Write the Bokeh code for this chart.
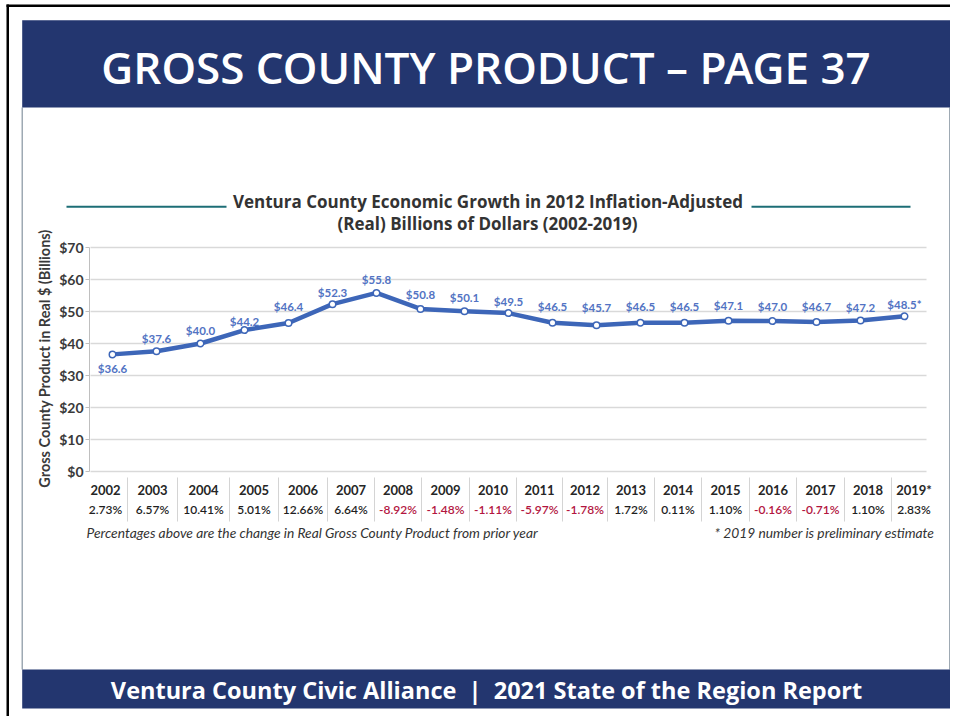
import math
from bokeh.plotting import figure
from bokeh.models import (ColumnDataSource, Label, LabelSet, BoxAnnotation, Range1d)
from bokeh.core.properties import value
from bokeh.embed import file_html
from bokeh.resources import INLINE

# ---------------- data ----------------
point_years = [2001, 2002, 2003, 2004, 2005, 2006, 2007, 2008, 2009, 2010,
               2011, 2012, 2013, 2014, 2015, 2016, 2017, 2018, 2019]
gcp_billions = [36.6, 37.6, 40.0, 44.2, 46.4, 52.3, 55.8, 50.8, 50.1, 49.5,
                46.5, 45.7, 46.5, 46.5, 47.1, 47.0, 46.7, 47.2, 48.5]
value_labels = ["$36.6", "$37.6", "$40.0", "$44.2", "$46.4", "$52.3", "$55.8",
                "$50.8", "$50.1", "$49.5", "$46.5", "$45.7", "$46.5", "$46.5",
                "$47.1", "$47.0", "$46.7", "$47.2", "$48.5*"]
table_years = ["2002", "2003", "2004", "2005", "2006", "2007", "2008", "2009",
               "2010", "2011", "2012", "2013", "2014", "2015", "2016", "2017",
               "2018", "2019*"]
pct_change = [2.73, 6.57, 10.41, 5.01, 12.66, 6.64, -8.92, -1.48, -1.11, -5.97,
              -1.78, 1.72, 0.11, 1.10, -0.16, -0.71, 1.10, 2.83]
y_ticks = [0, 10, 20, 30, 40, 50, 60, 70]

# ---------------- layout (screen pixels of the page) ----------------
W, H = 950, 716
OX, OY = 1, 1                                # where the canvas lands on the page
FL, FR, FT, FB = 90, 927, 248, 472          # chart area
X_FIRST_PX, X_STEP_PX = 113, 44.0            # first point position, spacing
Y_MAX = 70
label_dy = [14, -13, -13, -9, -17, -12, -13, -14, -14, -12,
            -16, -18, -16, -16, -15, -15, -16, -13, -12]
table_edges = [84, 128, 178, 230, 279, 328, 375, 422, 470, 517, 563, 608,
               655, 702, 750, 797, 845, 892, 937]


def X(sx):
    return point_years[0] + (sx - X_FIRST_PX) / X_STEP_PX


def Y(sy):
    return (FB - sy) * Y_MAX / (FB - FT)


NAVY = "#23366f"
BLUE = "#3d66b8"
LABEL_BLUE = "#5273c3"
RED = "#b3163f"
DARK = "#333333"
AXIS_GRAY = "#bfbfbf"

p = figure(width=W, height=H, output_backend="svg", toolbar_location=None,
           x_range=Range1d(X(OX), X(OX + W)), y_range=Range1d(Y(OY + H), Y(OY)),
           x_axis_location=None, y_axis_location=None,
           min_border=0, min_border_left=0, min_border_right=0,
           min_border_top=0, min_border_bottom=0)
p.title.visible = False
p.outline_line_color = None
p.background_fill_color = "white"
p.border_fill_color = "white"
p.grid.visible = False


def box(l, r, t, b, color):
    p.add_layout(BoxAnnotation(left=X(l), right=X(r), top=Y(t), bottom=Y(b),
                               fill_color=color, fill_alpha=1.0, line_color=None,
                               line_alpha=0, level="underlay"))


# ---------------- y axis and grid (from tick values) ----------------
tick_src = ColumnDataSource(dict(y=y_ticks, lab=["$%d" % t for t in y_ticks]))
p.segment(x0=X(FL + 1), x1=X(FR), y0="y", y1="y", source=tick_src,
          line_color="#d9d9d9", line_width=1.5)
p.segment(x0=X(FL - 4), x1=X(FL), y0="y", y1="y", source=tick_src,
          line_color=AXIS_GRAY, line_width=1)
p.segment(x0=[X(FL)], x1=[X(FL)], y0=[y_ticks[0]], y1=[y_ticks[-1]],
          line_color=AXIS_GRAY, line_width=1)
p.text(x=X(FL - 6), y="y", text="lab", source=tick_src, text_align="right",
       text_baseline="middle", text_font=value("Lato"), text_font_style="bold",
       text_font_size=value("14px"), text_color="#3a3a3a")
p.text(x=[X(45)], y=[Y(359)], text=["Gross County Product in Real $ (Billions)"],
       angle=math.pi / 2, text_align="center", text_baseline="middle",
       text_font=value("Lato"), text_font_style="bold",
       text_font_size=value("14.5px"), text_color="#3a3a3a")

# ---------------- series ----------------
src = ColumnDataSource(dict(x=point_years, y=gcp_billions, label=value_labels, dy=label_dy))
p.line("x", "y", source=src, line_width=4.5, line_color=BLUE, line_join="round")
p.scatter("x", "y", source=src, size=6.5, fill_color="white", line_color=BLUE, line_width=1.5)
p.text("x", "y", text="label", source=src, y_offset="dy", text_align="center",
       text_baseline="middle", text_font=value("Lato"), text_font_style="bold",
       text_font_size=value("11.5px"), text_color=LABEL_BLUE)

# ---------------- page frame and bands ----------------
box(7, 9.5, 5, 719, "#000000")
box(7, 954, 5, 7.5, "#000000")
box(22, 23.5, 108, 670, "#9ea9b3")
box(949.5, 951, 108, 670, "#9ea9b3")
box(22.7, 950.7, 20.7, 108, NAVY)
box(22.7, 950.7, 670, 709, NAVY)


def label(sx, sy, text, align, color, font, style, size):
    p.add_layout(Label(x=X(sx), y=Y(sy), text=text, text_align=align,
                       text_baseline="middle", text_color=color, text_font=font,
                       text_font_style=style, text_font_size=size))


label(486.5, 67.5, "GROSS COUNTY PRODUCT \u2013 PAGE 37", "center", "white",
      "Open Sans SemiBold, Open Sans", "normal", "44px")
label(487, 690, "Ventura County Civic Alliance \u00a0|\u00a0 2021 State of the Region Report",
      "center", "white", "Open Sans", "bold", "23.5px")

# chart title
label(488.5, 201.5, "Ventura County Economic Growth in 2012 Inflation-Adjusted",
      "center", DARK, "Open Sans", "bold", "17px")
label(488, 223.5, "(Real) Billions of Dollars (2002-2019)",
      "center", DARK, "Open Sans", "bold", "17px")
box(67, 227, 206.3, 208.3, "#1d6e76")
box(752, 911, 206.3, 208.3, "#1d6e76")

# ---------------- table under the chart ----------------
centers = [(table_edges[i] + table_edges[i + 1]) / 2 for i in range(len(table_years))]
pct_text = ["%.2f%%" % v for v in pct_change]
pct_color = [RED if v < 0 else "#1f1f1f" for v in pct_change]
tbl = ColumnDataSource(dict(x=[X(c) for c in centers], yy=[Y(495)] * len(centers),
                            yp=[Y(514)] * len(centers), year=table_years,
                            pct=pct_text, col=pct_color))
p.add_layout(LabelSet(x="x", y="yy", text="year", source=tbl, text_align="center",
                      text_baseline="alphabetic", text_font=value("Lato"),
                      text_font_style="bold", text_font_size=value("13px"),
                      text_color="#262626"))
p.add_layout(LabelSet(x="x", y="yp", text="pct", source=tbl, text_align="center",
                      text_baseline="alphabetic",
                      text_font=value("Lato Semibold, Lato SemiBold, Lato"),
                      text_font_size=value("12px"), text_color="col"))
for e in table_edges[1:-1]:
    box(e - 0.5, e + 0.5, 478, 522, "#d4d4d4")

label(87, 533, "Percentages above are the change in Real Gross County Product from prior year",
      "left", DARK, "Lato", "italic", "13.8px")
label(935, 533, "* 2019 number is preliminary estimate",
      "right", DARK, "Lato", "italic", "13.8px")

open("out.html", "w").write(file_html(p, INLINE))
